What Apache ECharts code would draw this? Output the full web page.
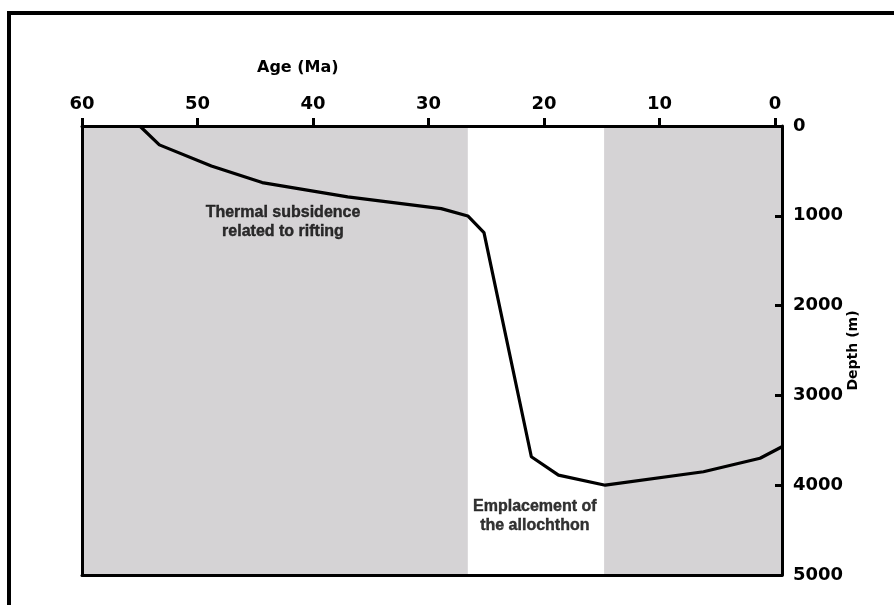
<!DOCTYPE html>
<html>
<head>
<meta charset="utf-8">
<script src="https://cdn.jsdelivr.net/npm/echarts@6/dist/echarts.min.js"></script>
<style>
html,body{margin:0;padding:0;background:#fff;}
#c{width:894px;height:605px;}
</style>
</head>
<body>
<div id="c"></div>
<script>
// Subsidence curve: age (Ma) vs depth (m)
const ages   = [55.0, 53.3, 48.8, 44.4, 37.0, 28.9, 26.6, 25.2, 21.1, 18.75, 14.7, 6.2, 1.3, -0.6];
const depths = [0,    210,  445,  630,  790,  920,  1002, 1188, 3683, 3888,  4000, 3850, 3700, 3572];
// Age tick labels and depth ticks
const ageTicks = [60, 50, 40, 30, 20, 10, 0];
const ageMin = -0.6, ageMax = 60;
const depthMin = 0, depthMax = 5000, depthStep = 1000;
// Shaded (grey) periods [from, to] in Ma
const shadedPeriods = [[60, 26.6], [14.8, -0.6]];
// Annotations: [age, depth, text]
const notes = [
  [42.6, 1069, 'Thermal subsidence\nrelated to rifting'],
  [20.8, 4343, 'Emplacement of\nthe allochthon']
];
const ageTitle = 'Age (Ma)';
const depthTitle = 'Depth (m)';

const chart = echarts.init(document.getElementById('c'));
const tickFont = {fontFamily: 'DejaVu Sans', fontWeight: 'bold', fontSize: 18, color: '#000'};
const lineStyle = {color: '#000', width: 3};

chart.setOption({
  animation: false,
  backgroundColor: '#fff',
  title: {
    text: ageTitle, left: 252, top: 55,
    textStyle: {fontFamily: 'DejaVu Sans', fontWeight: 'bold', fontSize: 16, color: '#000'}
  },
  grid: {left: 82, top: 126, width: 700, height: 449, containLabel: false},
  xAxis: [{
    type: 'value', position: 'top', inverse: true, min: ageMin, max: ageMax, z: 10,
    axisLine: {show: true, lineStyle: lineStyle},
    axisTick: {show: true, inside: false, length: 8, lineStyle: lineStyle, customValues: ageTicks},
    axisLabel: Object.assign({margin: 13, customValues: ageTicks, formatter: v => String(v)}, tickFont),
    splitLine: {show: false}
  }, {
    type: 'value', position: 'bottom', inverse: true, min: ageMin, max: ageMax, z: 10,
    axisLine: {show: true, onZero: false, lineStyle: lineStyle},
    axisTick: {show: false}, axisLabel: {show: false}, splitLine: {show: false}
  }],
  yAxis: [{
    type: 'value', position: 'right', inverse: true, min: depthMin, max: depthMax, interval: depthStep, z: 10,
    name: depthTitle, nameLocation: 'middle', nameGap: 64, nameRotate: 90, nameMoveOverlap: false,
    nameTextStyle: {fontFamily: 'DejaVu Sans', fontWeight: 'bold', fontSize: 14, color: '#000'},
    axisLine: {show: true, onZero: false, lineStyle: lineStyle},
    axisTick: {show: true, inside: true, length: 7, lineStyle: lineStyle},
    axisLabel: Object.assign({margin: 11, formatter: v => String(v)}, tickFont),
    splitLine: {show: false}
  }, {
    type: 'value', position: 'left', inverse: true, min: depthMin, max: depthMax, z: 10,
    axisLine: {show: true, onZero: false, lineStyle: lineStyle},
    axisTick: {show: false}, axisLabel: {show: false}, splitLine: {show: false}
  }],
  graphic: [{
    type: 'polyline', shape: {points: [[9, 605], [9, 13], [894, 13]]},
    style: {stroke: '#000', lineWidth: 4, fill: null}
  }],
  series: [{
    type: 'line', xAxisIndex: 0, yAxisIndex: 0,
    data: ages.map((a, i) => [a, depths[i]]),
    symbol: 'none', smooth: false,
    lineStyle: {color: '#000', width: 3.2},
    z: 5,
    markArea: {
      silent: true,
      itemStyle: {color: '#d5d3d5'},
      data: shadedPeriods.map(p => [{xAxis: p[0], yAxis: depthMin}, {xAxis: p[1], yAxis: depthMax}])
    }
  }, {
    type: 'scatter', xAxisIndex: 0, yAxisIndex: 0,
    symbolSize: 0, z: 6,
    itemStyle: {color: '#000'},
    data: notes.map(n => ({value: [n[0], n[1]], label: {formatter: n[2]}})),
    label: {
      show: true, position: 'inside', align: 'center', verticalAlign: 'middle',
      fontFamily: 'Liberation Sans', fontWeight: 'bold', fontSize: 16, lineHeight: 19,
      color: '#000', textBorderColor: '#000', textBorderWidth: 0.4
    }
  }]
});
</script>
</body>
</html>
